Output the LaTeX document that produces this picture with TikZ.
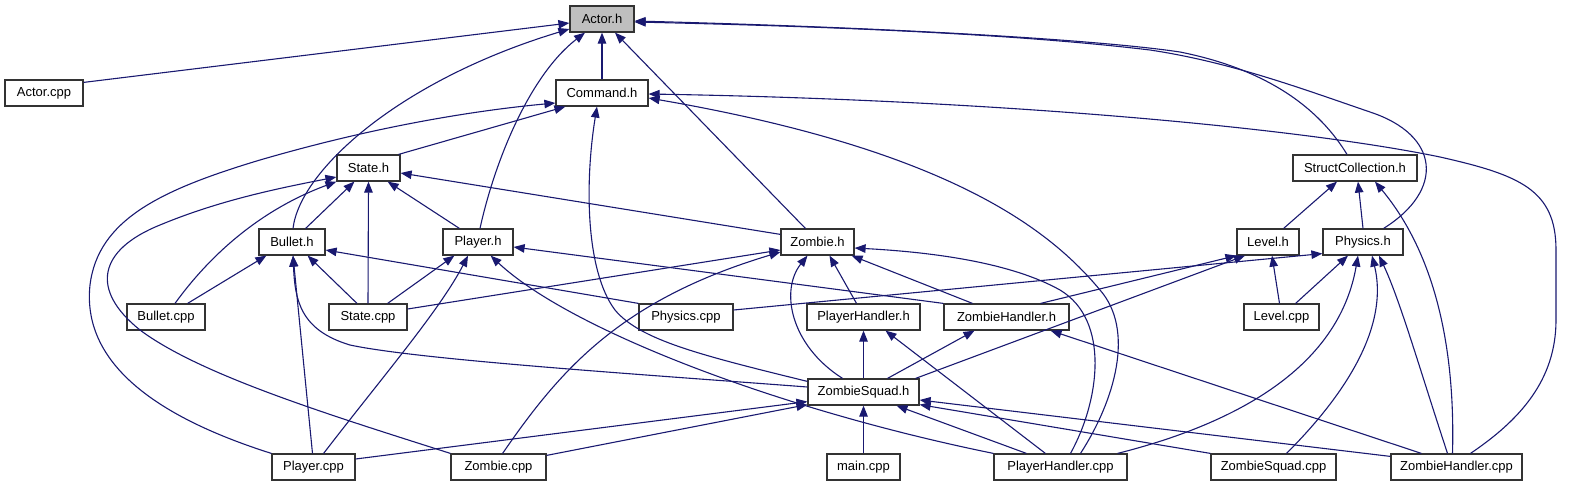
\documentclass[tikz,border=0pt]{standalone}
\usepackage{fontspec}
\setmainfont{Liberation Sans}
\usetikzlibrary{arrows.meta}
\definecolor{edgecol}{HTML}{191970}
\definecolor{hdrgray}{HTML}{BFBFBF}
\begin{document}
\begin{tikzpicture}[x=1pt,y=-1pt,
  box/.style={draw=black!80, line width=1.2pt, fill=white, inner sep=0pt, minimum height=26pt, font=\fontsize{13pt}{15pt}\selectfont},
  edge/.style={draw=edgecol, line width=1.1pt, -{Triangle[length=11pt,width=8.5pt]}}]
\useasboundingbox (0,0) rectangle (1569,485);
% nodes
\node[box, minimum width=64pt, fill=hdrgray] (actorh) at (602,19) {Actor.h};
\node[box, minimum width=78pt] (actorcpp) at (44,93) {Actor.cpp};
\node[box, minimum width=92pt] (commandh) at (602,93) {Command.h};
\node[box, minimum width=63pt] (stateh) at (368.5,168) {State.h};
\node[box, minimum width=124pt] (structh) at (1355,168) {StructCollection.h};
\node[box, minimum width=66pt] (bulleth) at (292,242) {Bullet.h};
\node[box, minimum width=70pt] (playerh) at (478,242) {Player.h};
\node[box, minimum width=73pt] (zombieh) at (817.5,242) {Zombie.h};
\node[box, minimum width=62pt] (levelh) at (1268,242) {Level.h};
\node[box, minimum width=80pt] (physicsh) at (1363,242) {Physics.h};
\node[box, minimum width=78pt] (bulletcpp) at (166,317) {Bullet.cpp};
\node[box, minimum width=78pt] (statecpp) at (368,317) {State.cpp};
\node[box, minimum width=94pt] (physicscpp) at (686,317) {Physics.cpp};
\node[box, minimum width=113pt] (playerhandlerh) at (863.5,317) {PlayerHandler.h};
\node[box, minimum width=125pt] (zombiehandlerh) at (1006.5,317) {ZombieHandler.h};
\node[box, minimum width=75pt] (levelcpp) at (1281.5,317) {Level.cpp};
\node[box, minimum width=111pt] (zombiesquadh) at (863.5,392) {ZombieSquad.h};
\node[box, minimum width=83pt] (playercpp) at (313.5,467) {Player.cpp};
\node[box, minimum width=95pt] (zombiecpp) at (498.5,467) {Zombie.cpp};
\node[box, minimum width=73pt] (maincpp) at (863.5,467) {main.cpp};
\node[box, minimum width=133pt] (playerhandlercpp) at (1060.5,467) {PlayerHandler.cpp};
\node[box, minimum width=125pt] (zombiesquadcpp) at (1273.5,467) {ZombieSquad.cpp};
\node[box, minimum width=131pt] (zombiehandlercpp) at (1456.5,467) {ZombieHandler.cpp};
% to Actor.h
\draw[edge] ([shift={(0,3)}]actorcpp.north east) -- ([shift={(0,4)}]actorh.west);
\draw[edge] ([shift={(1,0)}]bulleth.north) .. controls (300,170) and (400,80) .. ([shift={(0,10)}]actorh.west);
\draw[edge] (commandh.north) -- (actorh.south);
\draw[edge] ([shift={(2,0)}]playerh.north) .. controls (495,160) and (530,75) .. ([shift={(-17,0)}]actorh.south);
\draw[edge] ([shift={(25,0)}]zombieh.north west) -- ([shift={(13,0)}]actorh.south);
\draw[edge] ([shift={(-8,0)}]structh.north) .. controls (1320,110) and (1270,70) .. (1180,52) .. controls (1100,40) and (900,28) .. ([shift={(0,2)}]actorh.east);
\draw[edge] ([shift={(-20,0)}]physicsh.north east) .. controls (1445,190) and (1440,135) .. (1370,112) .. controls (1300,88) and (1230,62) .. (1150,50) .. controls (1050,38) and (900,28) .. ([shift={(0,3)}]actorh.east);
% to Command.h
\draw[edge] ([shift={(-2,0)}]stateh.north east) -- ([shift={(10,0)}]commandh.south west);
\draw[edge] (playercpp.north west) .. controls (150,415) and (82,360) .. (90,285) .. controls (98,220) and (160,190) .. (260,160) .. controls (380,125) and (480,110) .. ([shift={(0,10)}]commandh.west);
\draw[edge] ([shift={(0,3)}]zombiesquadh.north west) .. controls (700,355) and (640,340) .. (615,310) .. controls (585,270) and (585,180) .. ([shift={(-5,0)}]commandh.south);
\draw[edge] ([shift={(20,0)}]playerhandlercpp.north) .. controls (1115,400) and (1135,330) .. (1100,290) .. controls (1050,230) and (950,150) .. ([shift={(0,5)}]commandh.east);
\draw[edge] ([shift={(14,0)}]zombiehandlercpp.north) .. controls (1520,420) and (1556,380) .. (1556,320) -- (1556,250) .. controls (1556,190) and (1520,175) .. (1440,157) .. controls (1300,128) and (1000,100) .. ([shift={(0,1)}]commandh.east);
% to State.h
\draw[edge] ([shift={(-20,0)}]bulleth.north east) -- ([shift={(18,0)}]stateh.south west);
\draw[edge] (statecpp.north) -- (stateh.south);
\draw[edge] ([shift={(17,0)}]playerh.north west) -- ([shift={(-13,0)}]stateh.south east);
\draw[edge] ([shift={(0,6)}]zombieh.north west) -- ([shift={(0,5)}]stateh.east);
\draw[edge] ([shift={(9,0)}]bulletcpp.north) .. controls (210,255) and (260,210) .. (stateh.south west);
\draw[edge] (zombiecpp.north west) .. controls (330,415) and (200,375) .. (140,330) .. controls (90,290) and (98,250) .. (160,225) .. controls (220,200) and (280,188) .. ([shift={(0,9)}]stateh.west);
% to Bullet.h
\draw[edge] ([shift={(-18,0)}]bulletcpp.north east) -- ([shift={(8,0)}]bulleth.south west);
\draw[edge] ([shift={(-11,0)}]statecpp.north) -- ([shift={(-18,0)}]bulleth.south east);
\draw[edge] ([shift={(-1,0)}]playercpp.north) -- ([shift={(1,0)}]bulleth.south);
\draw[edge] (physicscpp.north west) -- ([shift={(0,8)}]bulleth.east);
\draw[edge] ([shift={(0,-5)}]zombiesquadh.west) .. controls (650,375) and (420,360) .. (350,345) .. controls (300,330) and (295,300) .. ([shift={(1,0)}]bulleth.south);
% to Player.h
\draw[edge] ([shift={(-20,0)}]statecpp.north east) -- ([shift={(12,0)}]playerh.south west);
\draw[edge] ([shift={(-32,0)}]playercpp.north east) .. controls (380,380) and (440,310) .. ([shift={(-10,0)}]playerh.south);
\draw[edge] (playerhandlercpp.north west) .. controls (780,410) and (570,330) .. ([shift={(-23,0)}]playerh.south east);
\draw[edge] (zombiehandlerh.north west) -- ([shift={(0,5)}]playerh.east);
% to Zombie.h
\draw[edge] ([shift={(0,-8)}]statecpp.east) -- ([shift={(0,8)}]zombieh.west);
\draw[edge] ([shift={(-44,0)}]zombiecpp.north east) .. controls (560,370) and (620,300) .. ([shift={(0,10)}]zombieh.west);
\draw[edge] ([shift={(-21,0)}]zombiesquadh.north) .. controls (790,345) and (780,290) .. ([shift={(-10,0)}]zombieh.south);
\draw[edge] ([shift={(-7,0)}]playerhandlerh.north) -- ([shift={(12,0)}]zombieh.south);
\draw[edge] ([shift={(-34,0)}]zombiehandlerh.north) -- ([shift={(-3,0)}]zombieh.south east);
\draw[edge] ([shift={(10,0)}]playerhandlercpp.north) .. controls (1100,400) and (1110,320) .. (1060,290) .. controls (1010,262) and (930,252) .. ([shift={(0,6)}]zombieh.east);
% to StructCollection.h
\draw[edge] ([shift={(-16,0)}]levelh.north east) -- ([shift={(-18,0)}]structh.south);
\draw[edge] (physicsh.north) -- ([shift={(3,0)}]structh.south);
\draw[edge] ([shift={(-4,0)}]zombiehandlercpp.north) .. controls (1455,360) and (1440,260) .. ([shift={(20,0)}]structh.south);
% to Level.h
\draw[edge] ([shift={(-29,0)}]zombiehandlerh.north east) -- (levelh.south west);
\draw[edge] ([shift={(-4,0)}]zombiesquadh.north east) -- ([shift={(-23,0)}]levelh.south);
\draw[edge] ([shift={(-2,0)}]levelcpp.north) -- ([shift={(4,0)}]levelh.south);
% to Physics.h
\draw[edge] ([shift={(0,-7)}]physicscpp.east) -- ([shift={(0,-2)}]physicsh.south west);
\draw[edge] ([shift={(-24,0)}]levelcpp.north east) -- ([shift={(-15,0)}]physicsh.south);
\draw[edge] ([shift={(-10,0)}]playerhandlercpp.north east) .. controls (1250,420) and (1340,360) .. ([shift={(-5,0)}]physicsh.south);
\draw[edge] ([shift={(13,0)}]zombiesquadcpp.north) .. controls (1340,400) and (1390,330) .. ([shift={(9,0)}]physicsh.south);
\draw[edge] ([shift={(-9,0)}]zombiehandlercpp.north) .. controls (1420,370) and (1400,300) .. ([shift={(16,0)}]physicsh.south);
% to PlayerHandler.h
\draw[edge] (zombiesquadh.north) -- (playerhandlerh.south);
\draw[edge] ([shift={(52,0)}]playerhandlercpp.north west) -- ([shift={(22,0)}]playerhandlerh.south);
% to ZombieHandler.h
\draw[edge] ([shift={(24,0)}]zombiesquadh.north) -- ([shift={(-32,0)}]zombiehandlerh.south);
\draw[edge] ([shift={(31,0)}]zombiehandlercpp.north west) -- ([shift={(-19,0)}]zombiehandlerh.south east);
% to ZombieSquad.h
\draw[edge] ([shift={(0,-8)}]playercpp.east) -- ([shift={(0,-4)}]zombiesquadh.south west);
\draw[edge] ([shift={(0,2)}]zombiecpp.north east) -- ([shift={(0,-1)}]zombiesquadh.south west);
\draw[edge] (maincpp.north) -- (zombiesquadh.south);
\draw[edge] ([shift={(33,0)}]playerhandlercpp.north west) -- ([shift={(33,0)}]zombiesquadh.south);
\draw[edge] (zombiesquadcpp.north west) -- ([shift={(0,-1)}]zombiesquadh.south east);
\draw[edge] ([shift={(0,3)}]zombiehandlercpp.north west) -- ([shift={(0,8)}]zombiesquadh.east);
\end{tikzpicture}
\end{document}
